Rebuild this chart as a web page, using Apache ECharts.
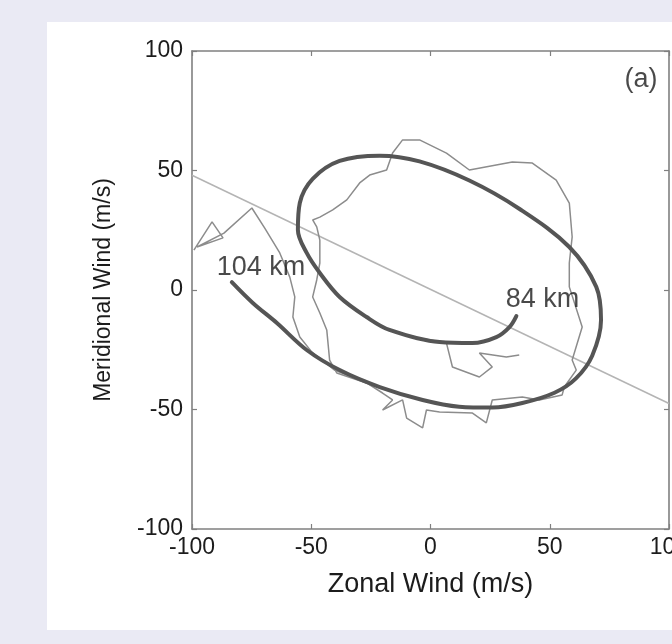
<!DOCTYPE html>
<html><head><meta charset="utf-8">
<script src="https://cdn.jsdelivr.net/npm/echarts@6/dist/echarts.min.js"></script>
<style>html,body{margin:0;padding:0;background:#eaeaf4;}#c{width:672px;height:644px;}</style>
</head><body><div id="c"></div>
<script>
// ---- data ----
const axisMin = -100, axisMax = 100, axisStep = 50;
const xTitle = 'Zonal Wind (m/s)';
const yTitle = 'Meridional Wind (m/s)';

// straight reference line (thin light grey)
const refLine = [[-100, 48], [100, -47.5]];

// thick modelled hodograph, from 104 km to 84 km
const modelCurve = [
  [-83.3, 3.3], [-74.5, -5.4], [-64.4, -13.8], [-51.9, -25.1], [-38.1, -33.5],
  [-21.3, -40.6], [-3.3, -46.0], [12.0, -48.8], [26.0, -49.2], [38.5, -47.3],
  [52.0, -43.0], [61.0, -37.0], [67.8, -27.5], [71.5, -12.6], [69.5, 1.3],
  [58.2, 18.0], [37.2, 34.0], [16.3, 45.8], [-4.6, 53.8], [-21.3, 56.2],
  [-38.1, 54.0], [-49.4, 46.5], [-54.8, 36.4], [-55.6, 25.1], [-51.9, 15.5],
  [-46.4, 7.1], [-38.1, -2.9], [-26.8, -11.3], [-17.2, -16.7], [3.8, -21.8],
  [17.6, -22.2], [27.6, -19.7], [33.1, -15.5], [36.0, -10.9]
];

// thin observed wind, western branch
const obsWest = [
  [-99.2, 16.7], [-91.6, 28.5], [-87.0, 21.8], [-97.9, 18.0], [-86.6, 23.8],
  [-74.9, 34.3], [-69.5, 25.9], [-63.2, 15.5], [-59.0, 5.4], [-56.9, -2.9],
  [-57.7, -11.3], [-54.8, -19.7], [-49.8, -25.9], [-40.2, -33.5], [-26.8, -38.9]
];

// thin observed wind, main loop
const obsLoop = [
  [-26.8, -38.9], [-20.1, -43.1], [-15.9, -46.0], [-20.1, -50.2], [-11.7, -46.0],
  [-10.0, -53.6], [-3.3, -57.7], [-1.7, -50.2], [3.8, -51.0], [17.6, -51.5],
  [23.4, -55.6], [25.9, -46.0], [38.5, -44.8], [45.6, -46.0], [55.2, -43.9],
  [56.1, -40.6], [61.1, -33.5], [59.4, -29.3], [63.6, -15.5], [58.2, 1.3],
  [58.2, 11.3], [59.4, 22.2], [58.2, 36.4], [52.7, 46.0], [42.7, 53.1],
  [34.3, 53.6], [16.3, 50.2], [6.7, 57.3], [-4.6, 62.8], [-11.7, 62.8],
  [-15.9, 57.3], [-18.4, 50.2], [-25.5, 48.1], [-29.7, 44.8], [-35.1, 37.7],
  [-41.0, 33.5], [-46.4, 30.5], [-49.4, 29.3], [-47.7, 26.4], [-46.4, 20.9],
  [-46.4, 11.3], [-47.7, 4.2], [-49.4, -2.9], [-46.4, -9.6], [-43.5, -16.7],
  [-42.3, -29.3], [-39.3, -34.7], [-26.8, -38.9]
];

// thin observed wind, short tail inside the loop
const obsTail = [
  [-2.5, -20.5], [6.7, -22.2], [9.2, -32.2], [20.5, -36.4], [25.9, -32.2],
  [20.5, -26.4], [31.8, -28.0], [37.2, -27.2]
];

// text annotations placed in data units
const notes = [
  { name: '104 km', value: [-71.1, 9.4] },
  { name: '84 km', value: [47.0, -4.2] },
  { name: '(a)', value: [88.3, 88] }
];

// ---- chart ----
const FONT = "'Liberation Sans', Arial, sans-serif";
const TXT = '#1c1c1c';
const BOX = '#808080';
const chart = echarts.init(document.getElementById('c'), null, { renderer: 'canvas' });

function boxAxis(pos, showLabel, extra) {
  return Object.assign({
    type: 'value', min: axisMin, max: axisMax, interval: axisStep, position: pos,
    axisLine: { show: true, onZero: false, lineStyle: { color: BOX, width: 1.6 } },
    axisTick: { show: true, inside: true, length: 5, lineStyle: { color: BOX, width: 1.2 } },
    axisLabel: { show: showLabel, fontSize: 23, color: TXT, fontFamily: FONT },
    splitLine: { show: false }
  }, extra || {});
}

const thinObs = (data) => ({
  type: 'line', data: data, showSymbol: false, symbol: 'none', silent: true,
  lineStyle: { color: '#8c8c8c', width: 1.5 }, z: 3
});

chart.setOption({
  backgroundColor: '#eaeaf4',
  animation: false,
  graphic: [{
    type: 'rect', z: -10, silent: true,
    shape: { x: 47, y: 22, width: 630, height: 608 },
    style: { fill: '#ffffff' }
  }],
  grid: { left: 192, top: 51, width: 477, height: 478, containLabel: false, outerBoundsMode: 'none' },
  xAxis: [
    boxAxis('bottom', true, {
      name: xTitle, nameLocation: 'middle', nameGap: 42,
      nameTextStyle: { fontSize: 27, color: TXT, fontFamily: FONT },
      axisLabel: { show: true, fontSize: 23, color: TXT, fontFamily: FONT, margin: 7 }
    }),
    boxAxis('top', false)
  ],
  yAxis: [
    boxAxis('left', true, {
      name: yTitle, nameLocation: 'middle', nameGap: 77, nameRotate: 90,
      nameTextStyle: { fontSize: 23, color: TXT, fontFamily: FONT },
      axisLabel: { show: true, fontSize: 23, color: TXT, fontFamily: FONT, margin: 9 }
    }),
    boxAxis('right', false)
  ],
  series: [
    { type: 'line', data: refLine, symbol: 'none', silent: true, z: 2,
      lineStyle: { color: '#b4b4b4', width: 1.5 } },
    thinObs(obsWest),
    thinObs(obsLoop),
    thinObs(obsTail),
    { type: 'line', data: modelCurve, symbol: 'none', smooth: 0.35, silent: true, z: 4,
      lineStyle: { color: '#555555', width: 4, cap: 'round' } },
    { type: 'scatter', data: notes, symbolSize: 0, silent: true, z: 6,
      label: { show: true, position: 'inside', formatter: '{b}', fontSize: 27,
               color: TXT, fontFamily: FONT } }
  ]
});
</script>
</body></html>
